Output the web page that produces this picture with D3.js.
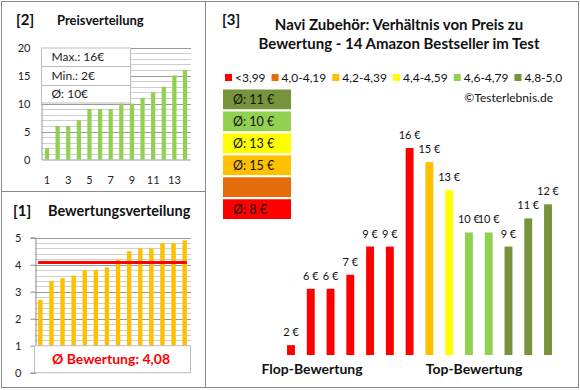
<!DOCTYPE html>
<html>
<head>
<meta charset="utf-8">
<script src="https://cdn.jsdelivr.net/npm/d3@7"></script>
<style>
  body { margin: 0; background: #fff; }
  svg { font-family: Lato, "Open Sans", sans-serif; display: block; }
</style>
</head>
<body>
<div id="chart-container"></div>
<script>
// prices sorted ascending (panel 2)
const pricesSorted = [2, 6, 6, 7, 9, 9, 9, 10, 10, 11, 12, 13, 15, 16];
// ratings sorted ascending (panel 1)
const ratings = [2.7, 3.4, 3.5, 3.6, 3.8, 3.8, 3.9, 4.2, 4.5, 4.6, 4.6, 4.8, 4.8, 4.9];
// prices in the order of the ratings (panel 3)
const pricesByRating = [2, 6, 6, 7, 9, 9, 16, 15, 13, 10, 10, 9, 11, 12];
const ratingClasses = ["<3,99", "4,0-4,19", "4,2-4,39", "4,4-4,59", "4,6-4,79", "4,8-5,0"];
const classAverages = [8, null, 15, 13, 10, 11];
const classColors = ["#FF0000", "#E46C0A", "#FFC000", "#FFFF00", "#92D050", "#77933C"];
const classThresholds = [4.0, 4.2, 4.4, 4.6, 4.8];
const priceTicks = [0, 5, 10, 15, 20];
const ratingTicks = [0, 1, 2, 3, 4, 5];

document.addEventListener('DOMContentLoaded', () => {
    const W = 580, H = 390;
    const svg = d3.select("#chart-container")
        .append("svg")
        .attr("width", W)
        .attr("height", H);

    const border = "#8a8a8a";
    const idx = d3.range(1, pricesSorted.length + 1);

    // frame
    svg.append("rect").attr("x", 1.5).attr("y", 1.5).attr("width", 577).attr("height", 386)
        .attr("fill", "#fff").attr("stroke", border);
    svg.append("line").attr("x1", 205.5).attr("x2", 205.5).attr("y1", 1.5).attr("y2", 387.5).attr("stroke", border);
    svg.append("line").attr("x1", 1.5).attr("x2", 205.5).attr("y1", 191.5).attr("y2", 191.5).attr("stroke", border);

    function header(x, y, num, title, tx, size) {
        svg.append("text").attr("x", x).attr("y", y).attr("font-size", 15).attr("font-weight", "bold")
            .attr("fill", "#111").text(num);
        svg.append("text").attr("x", tx).attr("y", y).attr("font-size", size).attr("font-weight", "bold")
            .attr("fill", "#111").text(title);
    }

    function grid(g, y, x0, x1, values, majorEvery) {
        g.selectAll("line.grid")
            .data(values)
            .enter().append("line")
            .attr("x1", x0).attr("x2", x1)
            .attr("y1", d => Math.round(y(d)) + 0.5)
            .attr("y2", d => Math.round(y(d)) + 0.5)
            .attr("stroke", d => Math.abs(d / majorEvery - Math.round(d / majorEvery)) < 1e-6 ? "#9a9a9a" : "#cfcfcf");
    }

    // ---------- [2] Preisverteilung ----------
    header(16, 25, "[2]", "Preisverteilung", 57, 13);

    const x2 = d3.scaleBand().domain(idx).range([41.7, 190.3]).paddingInner(0.6).paddingOuter(0.3);
    const y2 = d3.scaleLinear().domain([0, 20]).range([159.5, 47.5]);
    const g2 = svg.append("g");
    grid(g2, y2, 41.5, 191, d3.range(1, 21), 5);

    g2.selectAll(".bar")
        .data(pricesSorted)
        .enter().append("rect")
        .attr("x", (d, i) => x2(i + 1))
        .attr("width", x2.bandwidth())
        .attr("y", d => y2(d))
        .attr("height", d => y2(0) - y2(d))
        .attr("fill", "#92D050");

    g2.append("g")
        .attr("transform", "translate(41.5,0)")
        .call(d3.axisLeft(y2).tickValues(priceTicks).tickFormat(d3.format("d")).tickSize(0).tickPadding(11))
        .call(a => a.select(".domain").attr("stroke", "#9a9a9a"))
        .selectAll("text").attr("font-size", 11).attr("font-family", "Lato").attr("fill", "#222");

    g2.append("g")
        .attr("transform", "translate(0,159.5)")
        .call(d3.axisBottom(x2).tickValues(idx.filter(d => d % 2 === 1)).tickSize(0).tickPadding(17))
        .call(a => a.select(".domain").attr("stroke", "#9a9a9a"))
        .selectAll("text").attr("font-size", 11).attr("font-family", "Lato").attr("fill", "#222");

    // info box
    const info = [
        "Max.: " + d3.max(pricesSorted) + "€",
        "Min.: " + d3.min(pricesSorted) + "€",
        "Ø: " + Math.round(d3.mean(pricesSorted)) + "€"
    ];
    const rowY = d3.scaleBand().domain(d3.range(info.length)).range([48, 103]);
    const infoG = g2.append("g");
    infoG.append("rect").attr("x", 41.5).attr("y", 48).attr("width", 89).attr("height", 55)
        .attr("fill", "#fff").attr("stroke", "#bdbdbd");
    infoG.selectAll("line")
        .data(d3.range(1, info.length))
        .enter().append("line")
        .attr("x1", 41.5).attr("x2", 130.5)
        .attr("y1", d => Math.round(rowY(d)) + 0.5).attr("y2", d => Math.round(rowY(d)) + 0.5)
        .attr("stroke", "#bdbdbd");
    infoG.selectAll("text")
        .data(info)
        .enter().append("text")
        .attr("x", 51.5)
        .attr("y", (d, i) => rowY(i) + rowY.bandwidth() / 2 + 4)
        .attr("font-size", 12)
        .attr("fill", "#222")
        .text(d => d);

    // ---------- [1] Bewertungsverteilung ----------
    header(13, 216, "[1]", "Bewertungsverteilung", 48, 14.5);

    const x1 = d3.scaleBand().domain(idx).range([34.8, 190.2]).paddingInner(0.6).paddingOuter(0.3);
    const y1 = d3.scaleLinear().domain([0, 5]).range([372.7, 237.7]);
    const g1 = svg.append("g");
    grid(g1, y1, 35, 191, d3.range(1.2, 5.01, 0.2), 1);

    g1.selectAll(".bar")
        .data(ratings)
        .enter().append("rect")
        .attr("x", (d, i) => x1(i + 1))
        .attr("width", x1.bandwidth())
        .attr("y", d => y1(d))
        .attr("height", d => y1(0) - y1(d))
        .attr("fill", "#FFC000");

    g1.append("g")
        .attr("transform", "translate(35.5,0)")
        .call(d3.axisLeft(y1).tickValues(ratingTicks).tickFormat(d3.format("d")).tickSize(5).tickPadding(9))
        .call(a => a.selectAll(".domain, line").attr("stroke", "#8a8a8a"))
        .selectAll("text").attr("font-size", 11).attr("font-family", "Lato").attr("fill", "#222");

    const avgRating = d3.mean(ratings);
    g1.append("line")
        .attr("x1", x1(1)).attr("x2", x1(idx.length) + x1.bandwidth())
        .attr("y1", y1(avgRating)).attr("y2", y1(avgRating))
        .attr("stroke", "#FF0000").attr("stroke-width", 3);

    g1.append("rect").attr("x", 34.5).attr("y", y1(1)).attr("width", 156).attr("height", y1(0) - y1(1))
        .attr("fill", "#fff").attr("stroke", "#bdbdbd");
    g1.append("text")
        .attr("x", 111).attr("y", (y1(1) + y1(0)) / 2 + 5)
        .attr("text-anchor", "middle")
        .attr("font-size", 14).attr("font-weight", "bold").attr("fill", "#FF0000")
        .text("Ø Bewertung: " + avgRating.toFixed(2).replace(".", ","));

    // ---------- [3] Preis / Bewertung ----------
    svg.append("text").attr("x", 222).attr("y", 25).attr("font-size", 15).attr("font-weight", "bold")
        .attr("fill", "#111").text("[3]");
    const title = svg.append("text").attr("text-anchor", "middle").attr("font-size", 15)
        .attr("font-weight", "bold").attr("fill", "#111");
    title.append("tspan").attr("x", 399).attr("y", 29.5).text("Navi Zubehör: Verhältnis von Preis zu");
    title.append("tspan").attr("x", 399).attr("y", 48.5).text("Bewertung - 14 Amazon Bestseller im Test");

    // legend
    let lx = 225;
    ratingClasses.forEach((c, i) => {
        svg.append("rect").attr("x", lx).attr("y", 74).attr("width", 7).attr("height", 7)
            .attr("fill", classColors[i]);
        const t = svg.append("text").attr("x", lx + 10).attr("y", 82)
            .attr("font-size", 12).attr("fill", "#111").text(c);
        lx += 10 + t.node().getComputedTextLength() + 6;
    });

    svg.append("text").attr("x", 553).attr("y", 102).attr("text-anchor", "end")
        .attr("font-size", 12).attr("fill", "#111").text("©Testerlebnis.de");

    // class average boxes (best class on top)
    const order = d3.range(ratingClasses.length).reverse();
    const boxY = d3.scaleBand().domain(order).range([89.5, 219]).paddingInner(0.1);
    const boxes = svg.append("g").selectAll("g")
        .data(order)
        .enter().append("g");
    boxes.append("rect")
        .attr("x", 223).attr("width", 68)
        .attr("y", d => boxY(d)).attr("height", boxY.bandwidth())
        .attr("fill", d => classColors[d]);
    boxes.append("text")
        .attr("x", 233).attr("y", d => boxY(d) + boxY.bandwidth() / 2 + 4.5)
        .attr("font-size", 12.5).attr("fill", "#111")
        .text(d => classAverages[d] == null ? "" : "Ø: " + classAverages[d] + " €");

    const colorOf = d3.scaleThreshold().domain(classThresholds).range(classColors);
    const x3 = d3.scaleBand().domain(idx).range([281.1, 557.9]).paddingInner(0.6).paddingOuter(0.3);
    const y3 = d3.scaleLinear().domain([1.3, 16]).range([355, 148]);

    svg.append("g").selectAll(".bar")
        .data(pricesByRating)
        .enter().append("rect")
        .attr("x", (d, i) => x3(i + 1))
        .attr("width", x3.bandwidth())
        .attr("y", d => y3(d))
        .attr("height", d => y3(1.3) - y3(d))
        .attr("fill", (d, i) => colorOf(ratings[i]));

    svg.append("g").selectAll("text")
        .data(pricesByRating)
        .enter().append("text")
        .attr("x", (d, i) => x3(i + 1) + x3.bandwidth() / 2)
        .attr("y", d => y3(d) - 9)
        .attr("text-anchor", "middle")
        .attr("font-size", 11).attr("fill", "#111")
        .text(d => d + " €");

    svg.append("text").attr("x", 312).attr("y", 374).attr("text-anchor", "middle")
        .attr("font-size", 14).attr("font-weight", "bold").attr("fill", "#111").text("Flop-Bewertung");
    svg.append("text").attr("x", 474).attr("y", 374).attr("text-anchor", "middle")
        .attr("font-size", 14).attr("font-weight", "bold").attr("fill", "#111").text("Top-Bewertung");
});
</script>
</body>
</html>
